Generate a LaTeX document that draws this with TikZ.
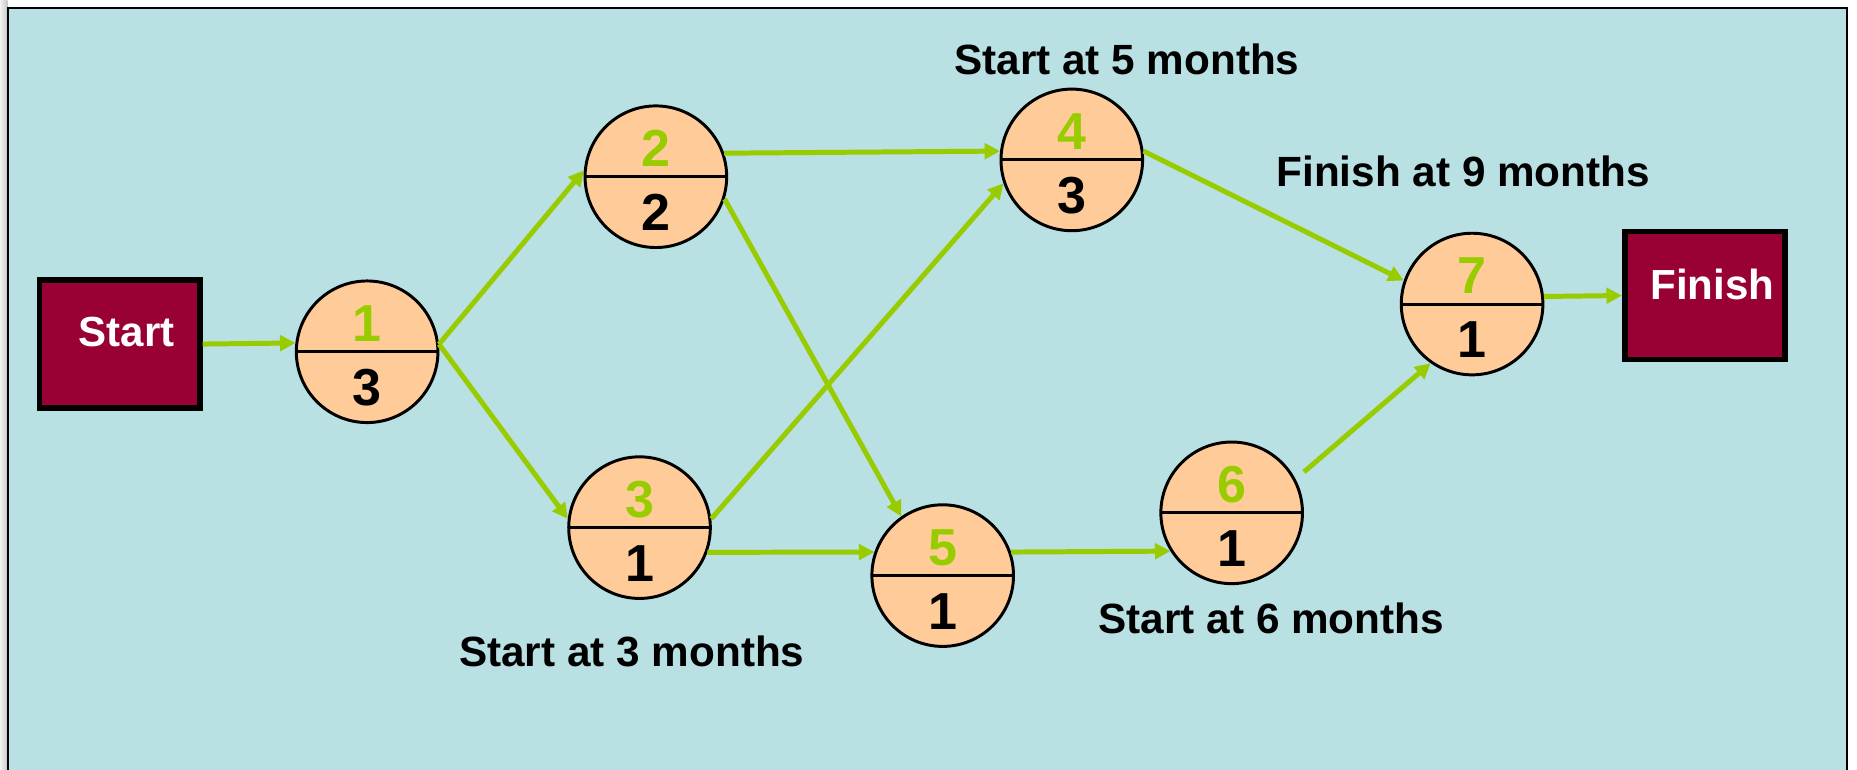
\documentclass[tikz,border=0pt]{standalone}
\usepackage{fontspec}
\setmainfont{Liberation Sans}
\usetikzlibrary{arrows.meta}
\definecolor{panelblue}{RGB}{185,224,227}
\definecolor{peach}{RGB}{255,204,153}
\definecolor{wine}{RGB}{153,0,51}
\definecolor{arrowgreen}{RGB}{153,204,0}
\tikzset{activity/.style={circle, draw=black, line width=0.025cm, fill=peach, minimum size=1.195cm, inner sep=0pt,
           path picture={\draw[line width=0.025cm] (path picture bounding box.west) -- (path picture bounding box.east);}},
         endbox/.style={rectangle, draw=black, line width=0.048cm, fill=wine, minimum width=1.352cm, minimum height=1.082cm},
         flow/.style={draw=arrowgreen, line width=0.042cm, -{Triangle[length=0.13cm,width=0.13cm]}},
         topnum/.style={anchor=base, inner sep=0pt, text=arrowgreen, font=\fontsize{12.5}{14}\selectfont\bfseries},
         botnum/.style={anchor=base, inner sep=0pt, font=\fontsize{12.5}{14}\selectfont\bfseries},
         boxtext/.style={anchor=base, inner sep=0pt, text=white, font=\fontsize{10.1}{12}\selectfont\bfseries},
         note/.style={anchor=base, inner sep=0pt, font=\fontsize{10.15}{12}\selectfont\bfseries}}
\begin{document}
\begin{tikzpicture}[x=0.01cm, y=-0.01cm]
  \useasboundingbox (0,0) rectangle (1568,650);
  % panel
  \shade[left color=gray!10, right color=gray!45] (0,0) rectangle (6.5,650);
  \fill[panelblue] (6.5,7) rectangle (1559.6,650);
  \draw[line width=0.02cm] (6.5,650) -- (6.5,7) -- (1559.6,7) -- (1559.6,650);
  % start and finish
  \node[endbox] (start) at (101,290.5) {};
  \node[boxtext] at ([xshift=0.06cm,yshift=-0.022cm]start.center) {Start};
  \node[endbox] (finish) at (1439.5,249.5) {};
  \node[boxtext] at ([xshift=0.065cm,yshift=-0.03cm]finish.center) {Finish};
  % activities: number on top, duration below
  \node[activity] (n1) at (310,297) {};
  \node[topnum] at ([yshift=0.085cm]n1.center) {1};
  \node[botnum] at ([yshift=-0.455cm]n1.center) {3};
  \node[activity] (n2) at (553.8,149.2) {};
  \node[topnum] at ([yshift=0.085cm]n2.center) {2};
  \node[botnum] at ([yshift=-0.455cm]n2.center) {2};
  \node[activity] (n3) at (540,445.5) {};
  \node[topnum] at ([yshift=0.085cm]n3.center) {3};
  \node[botnum] at ([yshift=-0.455cm]n3.center) {1};
  \node[activity] (n4) at (905,135) {};
  \node[topnum] at ([yshift=0.085cm]n4.center) {4};
  \node[botnum] at ([yshift=-0.455cm]n4.center) {3};
  \node[activity] (n5) at (796,486) {};
  \node[topnum] at ([yshift=0.085cm]n5.center) {5};
  \node[botnum] at ([yshift=-0.455cm]n5.center) {1};
  \node[activity] (n6) at (1040,433) {};
  \node[topnum] at ([yshift=0.085cm]n6.center) {6};
  \node[botnum] at ([yshift=-0.455cm]n6.center) {1};
  \node[activity] (n7) at (1243,256.7) {};
  \node[topnum] at ([yshift=0.085cm]n7.center) {7};
  \node[botnum] at ([yshift=-0.455cm]n7.center) {1};
  % links
  \draw[flow] (start.east) -- (n1.173);
  \draw[flow] (n1.6) -- (n2.175);
  \draw[flow] (n1.6) -- (n3.173);
  \draw[flow] (n2.19) -- (n4.173);
  \draw[flow] (n2.-18) -- (n5.125);
  \draw[flow] (n3.7) -- (n4.199);
  \draw[flow] (n3.-20) -- (n5.161);
  \draw[flow] (n4.7) -- (n7.161);
  \draw[flow] (n5.19) -- (n6.212);
  \draw[flow] ([yshift=0.345cm]n6.east) -- (n7.-125);
  \draw[flow] (n7.6) -- (finish.west);
  % milestones
  \node[note] (m5) at (951.5,63.3) {Start at 5 months};
  \node[note] (m9) at (1235.5,157.6) {Finish at 9 months};
  \node[note] (m3) at (533.5,563) {Start at 3 months};
  \node[note] (m6) at (1073.5,534.6) {Start at 6 months};
\end{tikzpicture}
\end{document}
